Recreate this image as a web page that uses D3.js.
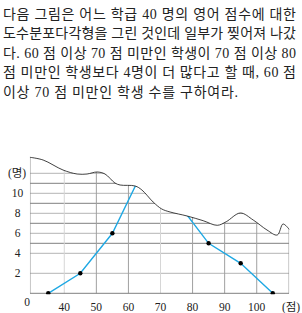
<!DOCTYPE html>
<html>
<head>
<meta charset="utf-8">
<script src="https://cdn.jsdelivr.net/npm/d3@7"></script>
<style>
  body { margin: 0; background: #fff; }
  svg { display: block; }
</style>
</head>
<body>
<div id="chart"></div>
<script>
// problem text, one entry per line
const text_lines = [
  '다음 그림은 어느 학급 40 명의 영어 점수에 대한',
  '도수분포다각형을 그린 것인데 일부가 찢어져 나갔',
  '다. 60 점 이상 70 점 미만인 학생이 70 점 이상 80',
  '점 미만인 학생보다 4명이 더 많다고 할 때, 60 점',
  '이상 70 점 미만인 학생 수를 구하여라.'
]

// class marks and counts (65 and 75 lie under the torn part)
const class_marks = [35, 45, 55, 65, 75, 85, 95, 105]
const counts = [0, 2, 6, 12.6, 9.2, 5, 3, 0]

const x_ticks = [40, 50, 60, 70, 80, 90, 100]
const y_ticks = [2, 4, 6, 8, 10]
const y_grid_light = [2, 4, 6, 8, 10, 12]
const y_grid_dark = [5, 7, 9, 11]
const x_grid_light = [40, 70]
const x_grid_dark = [50, 60, 80, 90, 100]

// torn edge of the paper, [score, count]
const torn_edge = [
  [29.3, 13.6], [33.4, 13.33], [39.6, 12.33], [44.0, 11.93], [47.1, 11.93],
  [50.2, 12.13], [52.7, 11.93], [55.8, 11.03], [57.4, 10.83], [62.1, 10.73],
  [64.2, 10.33], [67.7, 9.13], [70.4, 8.43], [73.0, 8.13], [78.3, 7.73],
  [83.3, 7.26], [87.7, 6.8], [90.5, 7.16], [94.9, 8.03], [98.9, 7.33],
  [103.2, 6.33], [106.4, 5.83], [108.2, 6.93], [110.1, 6.4]
]

const width = 302
const height = 313
const score_left = 29.3
const score_right = 110.1

const svg = d3.select('#chart').append('svg')
  .attr('width', width)
  .attr('height', height)

// text block
svg.append('g')
  .selectAll('text')
  .data(text_lines)
  .enter()
  .append('text')
  .attr('x', 3)
  .attr('y', (d, i) => 18.5 + i * 19.6)
  .attr('font-family', '"Liberation Serif", "Noto Sans CJK KR", serif')
  .attr('font-size', '14px')
  .attr('fill', '#222')
  .attr('textLength', (d, i) => i < 4 ? 293 : 235)
  .attr('lengthAdjust', 'spacing')
  .text(d => d)

const x = d3.scaleLinear().domain([30, 110]).range([32.2, 288.8])
const y = d3.scaleLinear().domain([0, 14]).range([293.3, 153.3])

// clip region: everything under the torn edge
const clip_area = d3.area()
  .x(d => x(d[0]))
  .y0(y(0) + 1)
  .y1(d => y(d[1]))
  .curve(d3.curveCatmullRom)

svg.append('clipPath')
  .attr('id', 'paper')
  .append('path')
  .attr('d', clip_area(torn_edge))

const plot = svg.append('g').attr('clip-path', 'url(#paper)')

plot.selectAll('.hl')
  .data(y_grid_light)
  .enter()
  .append('line')
  .attr('x1', x(score_left)).attr('x2', x(score_right))
  .attr('y1', d => y(d)).attr('y2', d => y(d))
  .attr('stroke', '#b4b4b4')

plot.selectAll('.hd')
  .data(y_grid_dark)
  .enter()
  .append('line')
  .attr('x1', x(score_left)).attr('x2', x(score_right))
  .attr('y1', d => y(d)).attr('y2', d => y(d))
  .attr('stroke', '#808080')

plot.selectAll('.vl')
  .data(x_grid_light)
  .enter()
  .append('line')
  .attr('x1', d => x(d)).attr('x2', d => x(d))
  .attr('y1', y(0)).attr('y2', y(14))
  .attr('stroke', '#d6d6d6')

plot.selectAll('.vd')
  .data(x_grid_dark.concat([score_left, score_right]))
  .enter()
  .append('line')
  .attr('x1', d => x(d)).attr('x2', d => x(d))
  .attr('y1', y(0)).attr('y2', y(14))
  .attr('stroke', (d, i) => i < x_grid_dark.length ? '#a0a0a0' : '#888')

plot.append('line')
  .attr('x1', x(score_left)).attr('x2', x(score_right))
  .attr('y1', y(0)).attr('y2', y(0))
  .attr('stroke', '#808080')

// frequency polygon
const pts = class_marks.map((c, i) => [c, counts[i]])

plot.append('path')
  .attr('d', d3.line().x(d => x(d[0])).y(d => y(d[1]))(pts))
  .attr('fill', 'none')
  .attr('stroke', '#1fa8e3')
  .attr('stroke-width', 1.4)

plot.selectAll('circle')
  .data(pts)
  .enter()
  .append('circle')
  .attr('cx', d => x(d[0]))
  .attr('cy', d => y(d[1]))
  .attr('r', 2.2)
  .attr('fill', '#000')

// torn edge line
svg.append('path')
  .attr('d', d3.line().x(d => x(d[0])).y(d => y(d[1])).curve(d3.curveCatmullRom)(torn_edge))
  .attr('fill', 'none')
  .attr('stroke', '#111')
  .attr('stroke-width', 0.8)

// axis labels
const label_font = '"Liberation Serif", "Noto Sans CJK KR", serif'

svg.selectAll('.ytick')
  .data(y_ticks)
  .enter()
  .append('text')
  .attr('x', 17.5)
  .attr('y', d => y(d) + 4)
  .attr('text-anchor', 'middle')
  .attr('font-family', label_font)
  .attr('font-size', '11.5px')
  .attr('fill', '#222')
  .text(d => d)

svg.append('text')
  .attr('x', 17)
  .attr('y', y(12) + 4)
  .attr('text-anchor', 'middle')
  .attr('font-family', label_font)
  .attr('font-size', '11.5px')
  .attr('fill', '#222')
  .text('(명)')

svg.selectAll('.xtick')
  .data(x_ticks)
  .enter()
  .append('text')
  .attr('x', d => x(d))
  .attr('y', 311)
  .attr('text-anchor', 'middle')
  .attr('font-family', label_font)
  .attr('font-size', '11.5px')
  .attr('fill', '#222')
  .text(d => d)

svg.append('text')
  .attr('x', 27)
  .attr('y', 306)
  .attr('text-anchor', 'middle')
  .attr('font-family', label_font)
  .attr('font-size', '11.5px')
  .attr('fill', '#222')
  .text('0')

svg.append('text')
  .attr('x', 291)
  .attr('y', 311)
  .attr('text-anchor', 'middle')
  .attr('font-family', label_font)
  .attr('font-size', '11.5px')
  .attr('fill', '#222')
  .text('(점)')
</script>
</body>
</html>
